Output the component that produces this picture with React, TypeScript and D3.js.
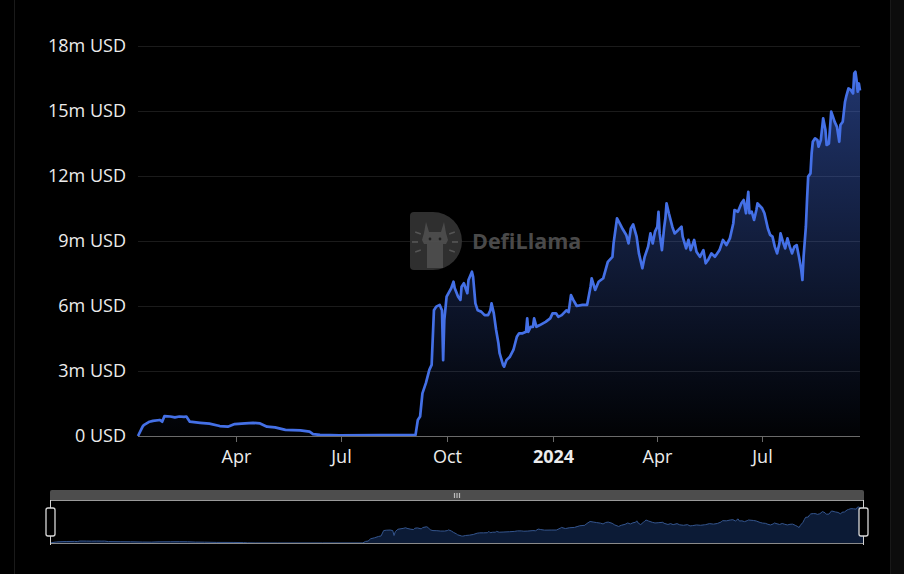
import * as d3 from 'd3';

const dates = [
  '2023-01-06','2023-01-10','2023-01-11','2023-01-16','2023-01-19','2023-01-25','2023-01-27','2023-01-29',
  '2023-02-03','2023-02-07','2023-02-11','2023-02-15','2023-02-17','2023-02-20','2023-03-01','2023-03-09',
  '2023-03-18','2023-03-25','2023-03-31','2023-04-09','2023-04-16','2023-04-22','2023-04-28','2023-05-05',
  '2023-05-14','2023-05-27','2023-06-04','2023-06-07','2023-06-13','2023-06-30','2023-08-04','2023-09-04',
  '2023-09-06','2023-09-08','2023-09-10','2023-09-13','2023-09-16','2023-09-18','2023-09-20','2023-09-22',
  '2023-09-25','2023-09-27','2023-09-28','2023-09-29','2023-10-01','2023-10-05','2023-10-07','2023-10-08',
  '2023-10-11','2023-10-13','2023-10-14','2023-10-16','2023-10-19','2023-10-20','2023-10-23','2023-10-24',
  '2023-10-26','2023-10-28','2023-10-31','2023-11-03','2023-11-06','2023-11-08','2023-11-09','2023-11-11',
  '2023-11-13','2023-11-15','2023-11-16','2023-11-19','2023-11-20','2023-11-22','2023-11-25','2023-11-28',
  '2023-12-01','2023-12-03','2023-12-06','2023-12-09','2023-12-10','2023-12-11','2023-12-13','2023-12-15',
  '2023-12-16','2023-12-18','2023-12-21','2023-12-26','2023-12-30','2024-01-01','2024-01-04','2024-01-06',
  '2024-01-09','2024-01-13','2024-01-15','2024-01-17','2024-01-19','2024-01-22','2024-01-27','2024-01-31',
  '2024-02-03','2024-02-04','2024-02-07','2024-02-10','2024-02-14','2024-02-16','2024-02-18','2024-02-22',
  '2024-02-23','2024-02-26','2024-02-29','2024-03-02','2024-03-05','2024-03-07','2024-03-09','2024-03-11',
  '2024-03-14','2024-03-16','2024-03-19','2024-03-21','2024-03-24','2024-03-26','2024-03-28','2024-03-30',
  '2024-04-01','2024-04-02','2024-04-03','2024-04-05','2024-04-07','2024-04-08','2024-04-09','2024-04-11',
  '2024-04-14','2024-04-16','2024-04-19','2024-04-22','2024-04-23','2024-04-26','2024-04-28','2024-04-30',
  '2024-05-03','2024-05-05','2024-05-08','2024-05-11','2024-05-13','2024-05-15','2024-05-18','2024-05-21',
  '2024-05-24','2024-05-25','2024-05-28','2024-05-31','2024-06-03','2024-06-06','2024-06-07','2024-06-10',
  '2024-06-13','2024-06-15','2024-06-17','2024-06-19','2024-06-20','2024-06-22','2024-06-24','2024-06-26',
  '2024-06-27','2024-07-01','2024-07-03','2024-07-06','2024-07-08','2024-07-10','2024-07-12','2024-07-14',
  '2024-07-16','2024-07-17','2024-07-19','2024-07-21','2024-07-23','2024-07-25','2024-07-27','2024-07-29',
  '2024-07-31','2024-08-02','2024-08-04','2024-08-05','2024-08-06','2024-08-08','2024-08-09','2024-08-10',
  '2024-08-12','2024-08-13','2024-08-14','2024-08-16','2024-08-18','2024-08-19','2024-08-21','2024-08-23',
  '2024-08-25','2024-08-26','2024-08-28','2024-08-30','2024-09-01','2024-09-02','2024-09-04','2024-09-06',
  '2024-09-07','2024-09-09','2024-09-11','2024-09-12','2024-09-14','2024-09-16','2024-09-18','2024-09-19',
  '2024-09-20','2024-09-21','2024-09-22','2024-09-23','2024-09-24',
];

// TVL in millions of USD
const tvl = [
  0, 0.43, 0.5, 0.66, 0.7, 0.74, 0.66, 0.92,
  0.9, 0.86, 0.9, 0.88, 0.9, 0.66, 0.61, 0.57,
  0.46, 0.43, 0.55, 0.58, 0.61, 0.58, 0.43, 0.4,
  0.28, 0.26, 0.2, 0.09, 0.05, 0.03, 0.04, 0.04,
  0.74, 0.9, 1.97, 2.44, 3.05, 3.28, 5.8, 5.97,
  6.05, 5.8, 3.5, 5.35, 6.43, 6.82, 7.12, 6.83,
  6.43, 6.28, 6.89, 7.05, 6.59, 7.2, 7.58, 7.35,
  6.12, 5.8, 5.74, 5.58, 5.58, 5.8, 6.12, 5.66,
  4.89, 4.28, 3.82, 3.28, 3.2, 3.5, 3.66, 3.97,
  4.58, 4.74, 4.74, 4.81, 5.43, 4.81, 5.04, 5.04,
  5.43, 5.04, 5.12, 5.27, 5.43, 5.66, 5.66, 5.5,
  5.58, 5.8, 5.72, 6.5, 6.28, 6.0, 6.05, 6.05,
  6.89, 7.28, 6.74, 7.12, 7.28, 7.66, 8.04, 8.27,
  8.89, 10.05, 9.74, 9.54, 9.28, 8.89, 9.58, 9.77,
  9.2, 8.43, 7.74, 8.27, 8.74, 9.35, 8.89, 9.43,
  9.66, 10.35, 9.35, 8.58, 9.66, 10.05, 10.74, 10.28,
  9.66, 9.35, 9.5, 9.66, 9.2, 8.66, 9.05, 8.58,
  9.05, 8.5, 8.27, 8.58, 7.97, 8.12, 8.43, 8.27,
  8.5, 8.58, 9.05, 8.81, 9.12, 9.82, 10.43, 10.35,
  10.74, 10.89, 10.28, 11.27, 10.28, 10.35, 9.97, 10.43,
  10.74, 10.51, 10.28, 9.58, 9.28, 9.2, 8.74, 8.43,
  8.89, 9.35, 8.97, 8.66, 9.12, 8.74, 8.43, 8.74,
  8.81, 8.27, 7.66, 7.2, 8.27, 9.66, 10.9, 11.97,
  12.12, 13.05, 13.58, 13.74, 13.66, 13.35, 13.66, 14.66,
  14.12, 13.43, 13.5, 14.97, 14.66, 14.5, 14.27, 13.58,
  14.35, 14.5, 15.43, 15.66, 16.04, 15.97, 15.81, 16.74,
  16.81, 16.43, 15.89, 16.27, 15.95,
];

const yTicks = [0, 3, 6, 9, 12, 15, 18];
const xTickDates = ['2023-04-01', '2023-07-01', '2023-10-01', '2024-01-01', '2024-04-01', '2024-07-01'];
const xTickLabels = ['Apr', 'Jul', 'Oct', '2024', 'Apr', 'Jul'];

const W = 904, H = 574;
const FONT = '"Open Sans", "Noto Sans", sans-serif';

export default function App() {
  const parse = d3.utcParse('%Y-%m-%d');
  const data = dates.map((d, i) => ({ date: parse(d)!, v: tvl[i] }));

  const x = d3.scaleUtc().domain(d3.extent(data, d => d.date) as [Date, Date]).range([138, 860]);
  const y = d3.scaleLinear().domain([0, 18]).range([436, 46]);

  const line = d3.line<typeof data[0]>().x(d => x(d.date)).y(d => y(d.v));
  const area = d3.area<typeof data[0]>().x(d => x(d.date)).y0(y(0)).y1(d => y(d.v));

  // slider mini chart
  const mx = d3.scaleUtc().domain(x.domain()).range([50, 864]);
  const my = d3.scaleLinear().domain([0, d3.max(tvl)!]).range([543, 507]);
  const mArea = d3.area<typeof data[0]>().x(d => mx(d.date)).y0(543).y1(d => my(d.v));
  const mLine = d3.line<typeof data[0]>().x(d => mx(d.date)).y(d => my(d.v));

  return (
    <div style={{ position: 'fixed', left: 0, top: 0, width: W, height: H, background: '#000' }}>
      <svg width={W} height={H} style={{ display: 'block' }}>
        <defs>
          <linearGradient id="fillGrad" gradientUnits="userSpaceOnUse" x1="0" x2="0" y1={y(18)} y2={y(0)}>
            <stop offset="0" stopColor="#4571e8" stopOpacity={0.5} />
            <stop offset="1" stopColor="#4571e8" stopOpacity={0.02} />
          </linearGradient>
        </defs>
        <rect width={W} height={H} fill="#000" />
        <rect x={890} y={0} width={14} height={H} fill="#0c0c0c" />
        <line x1={890.5} x2={890.5} y1={0} y2={H} stroke="#181818" />
        <line x1={14.5} x2={14.5} y1={0} y2={H} stroke="#1a1a1a" />

        {/* gridlines */}
        {yTicks.filter(t => t > 0).map(t => (
          <line key={t} x1={138} x2={860} y1={y(t) + 0.5} y2={y(t) + 0.5} stroke="#1b1b1b" />
        ))}

        {/* watermark */}
        <g opacity={0.95}>
          <path d="M414,212 H433 A29,29 0 0 1 433,270 H414 A4,4 0 0 1 410,266 V216 A4,4 0 0 1 414,212 Z" fill="#323232" />
          <path d="M426,222 L429,232 L441,232 L444,222 L446,233 L448,240 L446,244 L443,244 L443,268 L427,268 L427,244 L424,244 L422,240 L424,233 Z" fill="#505050" />
          <circle cx={430} cy={239} r={1.4} fill="#222" />
          <circle cx={440} cy={239} r={1.4} fill="#222" />
          {[[-70, 418, 233], [-90, 415, 242], [-110, 418, 251], [70, 452, 233], [90, 455, 242], [110, 452, 251]].map(([a, cx, cy], i) => (
            <line key={i} x1={cx - 3} x2={cx + 3} y1={cy} y2={cy} stroke="#5a5a5a" strokeWidth={1.6}
              transform={`rotate(${a + 90} ${cx} ${cy})`} />
          ))}
          <text x={472} y={249} fontFamily={FONT} fontWeight={700} fontSize={21.5} fill="#4e4e4e">DefiLlama</text>
        </g>

        {/* area + line */}
        <path d={area(data)!} fill="url(#fillGrad)" />
        <path d={line(data)!} fill="none" stroke="#4470e6" strokeWidth={2.7} strokeLinejoin="round" />

        {/* x axis */}
        <line x1={138} x2={860} y1={436.5} y2={436.5} stroke="#6a6a6a" />
        {xTickDates.map((d, i) => {
          const xx = Math.round(x(parse(d)!)) + 0.5;
          return (
            <g key={d}>
              <line x1={xx} x2={xx} y1={437} y2={442} stroke="#6a6a6a" />
              <text x={xx} y={463} textAnchor="middle" fontFamily={FONT} fontSize={18}
                fontWeight={xTickLabels[i] === '2024' ? 700 : 400} fill="#ececec">{xTickLabels[i]}</text>
            </g>
          );
        })}

        {/* y labels */}
        {yTicks.map(t => (
          <text key={t} x={126} y={y(t)} dy="0.35em" textAnchor="end" fontFamily={FONT} fontSize={18} fill="#ececec">
            {t === 0 ? '0 USD' : `${t}m USD`}
          </text>
        ))}

        {/* data zoom slider */}
        <path d="M52,490 H862 A2,2 0 0 1 864,492 V500 H50 V492 A2,2 0 0 1 52,490 Z" fill="#4d4d4d" />
        {[-2.5, 0, 2.5].map(o => (
          <line key={o} x1={457 + o} x2={457 + o} y1={493} y2={498} stroke="#bdbdbd" strokeWidth={1.2} />
        ))}
        <path d={mArea(data)!} fill="#0c1b36" />
        <path d={mLine(data)!} fill="none" stroke="#34558e" strokeWidth={1} />
        <line x1={50} x2={864} y1={500.5} y2={500.5} stroke="#9a9a9a" />
        <line x1={50} x2={864} y1={543.5} y2={543.5} stroke="#8a8a8a" />
        {[50.5, 863.5].map(hx => (
          <g key={hx}>
            <line x1={hx} x2={hx} y1={500} y2={545} stroke="#d0d0d0" />
            <rect x={hx - 4.5} y={508} width={9} height={28} rx={2} fill="#000" stroke="#d8d8d8" strokeWidth={1.3} />
          </g>
        ))}
      </svg>
    </div>
  );
}
